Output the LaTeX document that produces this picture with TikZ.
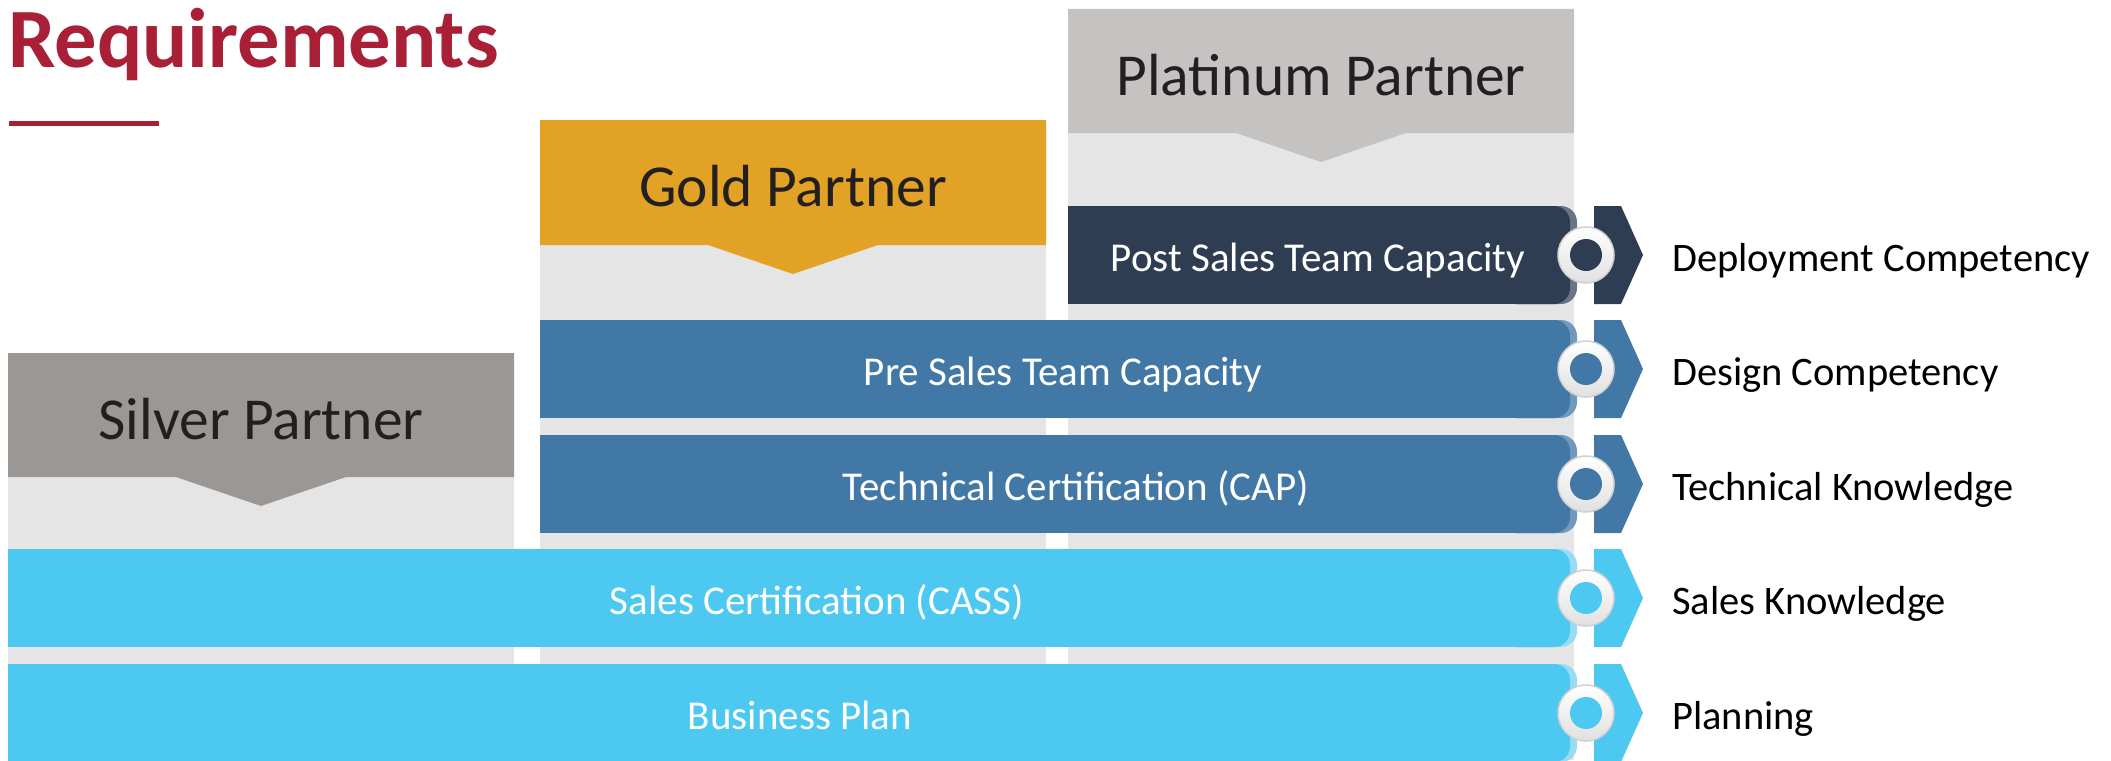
\documentclass[tikz,border=0pt]{standalone}
\usepackage{fontspec}
\setmainfont{Carlito}
\usepackage{tikz}
\usetikzlibrary{positioning}
\definecolor{titlered}{HTML}{A81F36}
\definecolor{goldhead}{HTML}{E1A226}
\definecolor{silverhead}{HTML}{9B9794}
\definecolor{platinumhead}{HTML}{C4C3C1}
\definecolor{colgray}{HTML}{E5E5E5}
\definecolor{headink}{HTML}{231F20}
\definecolor{navybar}{HTML}{2F3D52}
\definecolor{navyedge}{HTML}{6A7584}
\definecolor{midbar}{HTML}{4178A6}
\definecolor{midedge}{HTML}{7199BE}
\definecolor{lightbar}{HTML}{4DC8F0}
\definecolor{lightedge}{HTML}{97DCF4}
\tikzstyle{titletext}=[anchor=west, inner sep=0pt, text height=52pt, text depth=0pt, text=titlered, font=\fontsize{84.5}{90}\selectfont\bfseries]
\tikzstyle{headtext}=[inner sep=0pt, text height=36pt, text depth=0pt, text=headink, font=\fontsize{59.5}{64}\selectfont]
\tikzstyle{bartext}=[inner sep=0pt, text height=25pt, text depth=0pt, text=white, font=\fontsize{41}{45}\selectfont]
\tikzstyle{labeltext}=[anchor=west, inner sep=0pt, text height=25pt, text depth=0pt, text=black, font=\fontsize{40.5}{44}\selectfont]
\tikzstyle{ring}=[circle, draw=black!18, line width=1.5pt, top color=white, bottom color=black!12, minimum size=56pt, inner sep=0pt]
\tikzstyle{hole}=[circle, minimum size=32pt, inner sep=0pt]

\begin{document}
\begin{tikzpicture}[x=1pt, y=-1pt]
		   \useasboundingbox (0,0) rectangle (2111,760);
		   \begin{scope}
			   \fill[colgray] (8,477) rectangle (514,760);
			   \fill[colgray] (540,245) rectangle (1046,760);
			   \fill[colgray] (1068,133) rectangle (1574,760);
			   \fill[silverhead] (8,353) -- (514,353) -- (514,477) -- (346,477) -- (261,506) -- (176,477) -- (8,477) -- cycle;
			   \fill[goldhead] (540,120) -- (1046,120) -- (1046,245) -- (878,245) -- (793,274) -- (708,245) -- (540,245) -- cycle;
			   \fill[platinumhead] (1068,9) -- (1574,9) -- (1574,133) -- (1406,133) -- (1321,162) -- (1236,133) -- (1068,133) -- cycle;
			   \fill[titlered] (9,121) rectangle (159,126);
		   \end{scope}
		   \begin{scope}
			   \fill[navyedge, rounded corners=16pt] (1500,206) rectangle (1577,304);
			   \fill[navybar, rounded corners=16pt] (1500,206) rectangle (1570,304);
			   \fill[navybar] (1068,206) rectangle (1530,304);
			   \fill[midedge, rounded corners=16pt] (1500,320) rectangle (1577,418);
			   \fill[midbar, rounded corners=16pt] (1500,320) rectangle (1570,418);
			   \fill[midbar] (540,320) rectangle (1530,418);
			   \fill[midedge, rounded corners=16pt] (1500,435) rectangle (1577,533);
			   \fill[midbar, rounded corners=16pt] (1500,435) rectangle (1570,533);
			   \fill[midbar] (540,435) rectangle (1530,533);
			   \fill[lightedge, rounded corners=16pt] (1500,549) rectangle (1577,647);
			   \fill[lightbar, rounded corners=16pt] (1500,549) rectangle (1570,647);
			   \fill[lightbar] (8,549) rectangle (1530,647);
			   \fill[lightedge, rounded corners=16pt] (1500,664) rectangle (1577,762);
			   \fill[lightbar, rounded corners=16pt] (1500,664) rectangle (1570,762);
			   \fill[lightbar] (8,664) rectangle (1530,762);
		   \end{scope}
		   \begin{scope}
			   \fill[navybar] (1594,206) -- (1621,206) -- (1643,255) -- (1621,304) -- (1594,304) -- cycle;
			   \fill[midbar] (1594,320) -- (1621,320) -- (1643,369) -- (1621,418) -- (1594,418) -- cycle;
			   \fill[midbar] (1594,435) -- (1621,435) -- (1643,484) -- (1621,533) -- (1594,533) -- cycle;
			   \fill[lightbar] (1594,549) -- (1621,549) -- (1643,598) -- (1621,647) -- (1594,647) -- cycle;
			   \fill[lightbar] (1594,664) -- (1621,664) -- (1643,713) -- (1621,762) -- (1594,762) -- cycle;
		   \end{scope}
		   \begin{scope}
			   \node (r1) at (1586,255) [ring] {};
			   \node (r2) at (1586,369) [ring] {};
			   \node (r3) at (1586,484) [ring] {};
			   \node (r4) at (1586,598) [ring] {};
			   \node (r5) at (1586,713) [ring] {};
			   \node (h1) at (r1) [hole, fill=navybar] {};
			   \node (h2) at (r2) [hole, fill=midbar] {};
			   \node (h3) at (r3) [hole, fill=midbar] {};
			   \node (h4) at (r4) [hole, fill=lightbar] {};
			   \node (h5) at (r5) [hole, fill=lightbar] {};
		   \end{scope}
		   \begin{scope}
			   \node (title) at (8,41) [titletext] {Requirements};
			   \node (platinum) at (1321,77) [headtext] {Platinum Partner};
			   \node (gold) at (793,188) [headtext] {Gold Partner};
			   \node (silver) at (261,421) [headtext] {Silver Partner};
			   \node (post) at (1318,259) [bartext] {Post Sales Team Capacity};
			   \node (pre) at (1063,373) [bartext] {Pre Sales Team Capacity};
			   \node (cap) at (1076,488) [bartext] {Technical Certification (CAP)};
			   \node (cass) at (817,602) [bartext] {Sales Certification (CASS)};
			   \node (plan) at (800,717) [bartext] {Business Plan};
			   \node (deploy) at (1672,259) [labeltext] {Deployment Competency};
			   \node (design) at (1672,373) [labeltext] {Design Competency};
			   \node (know) at (1672,488) [labeltext] {Technical Knowledge};
			   \node (salesk) at (1672,602) [labeltext] {Sales Knowledge};
			   \node (planning) at (1672,717) [labeltext] {Planning};
		   \end{scope}
	   \end{tikzpicture}
\end{document}
